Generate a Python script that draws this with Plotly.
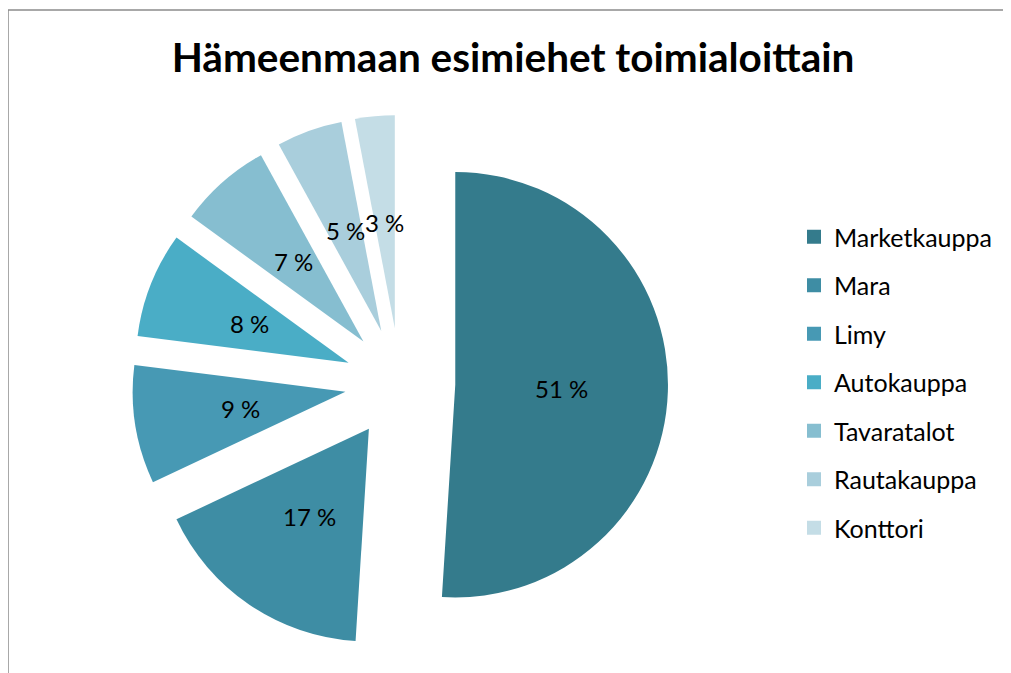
import math
import plotly.graph_objects as go

categories = ["Marketkauppa", "Mara", "Limy", "Autokauppa", "Tavaratalot", "Rautakauppa", "Konttori"]
values = [51, 17, 9, 8, 7, 5, 3]
colors = ["#347B8C", "#3E8DA4", "#4799B4", "#4AADC6", "#86BED0", "#A9CEDC", "#C4DDE6"]
labels_text = [f"{v} %" for v in values]
PULL = 0.26

W, H = 1011, 673
OFF = 8  # page body margin
FONT = "Lato, 'Open Sans', sans-serif"


def px_x(p):
    return (p - OFF) / W


def px_y(p):
    return 1 - (p - OFF) / H


dom_x = [px_x(132), px_x(668)]
dom_y = [px_y(651), px_y(115)]

fig = go.Figure()
fig.add_trace(go.Pie(
    labels=categories, values=values, sort=False, direction="clockwise", rotation=0,
    marker=dict(colors=colors, line=dict(width=0)),
    pull=[PULL] * len(values),
    textinfo="none",
    domain=dict(x=dom_x, y=dom_y),
    showlegend=False, hoverinfo="label+percent",
))

# data labels at half radius along each slice bisector (derived from the values)
cx = (dom_x[0] + dom_x[1]) / 2 * W
cy = (1 - (dom_y[0] + dom_y[1]) / 2) * H
r = min((dom_x[1] - dom_x[0]) * W, (dom_y[1] - dom_y[0]) * H) / 2 / (1 + PULL)
total = sum(values)
cum = 0
annotations = []
for v, t in zip(values, labels_text):
    mid = (cum + v / 2) / total * 2 * math.pi
    cum += v
    d = PULL * r + 0.5 * r
    ax = cx + d * math.sin(mid)
    ay = cy - d * math.cos(mid)
    annotations.append(dict(x=ax / W, y=1 - ay / H, xref="paper", yref="paper", text=t,
                            xanchor="center", yanchor="middle", showarrow=False,
                            font=dict(family=FONT, size=24, color="#000000")))

# legend proxies
for i, (c, col) in enumerate(zip(categories, colors)):
    fig.add_trace(go.Scatter(
        x=[None], y=[None], mode="markers", name=c,
        marker=dict(symbol="square", size=14, color=col),
        legendgroup=f"g{i}", showlegend=True,
    ))

fig.update_layout(
    width=W, height=H,
    margin=dict(l=0, r=0, t=0, b=0, autoexpand=False),
    paper_bgcolor="white", plot_bgcolor="white",
    title=dict(text="<b>Hämeenmaan esimiehet toimialoittain</b>", x=px_x(513), xanchor="center",
               y=px_y(58), yanchor="middle",
               font=dict(family=FONT, size=40.5, color="#000000")),
    xaxis=dict(visible=False), yaxis=dict(visible=False),
    legend=dict(x=px_x(794), xanchor="left", y=px_y(214), yanchor="top",
                font=dict(family=FONT, size=25, color="#000000"),
                tracegroupgap=13, bgcolor="rgba(0,0,0,0)", traceorder="grouped"),
    annotations=annotations,
    shapes=[dict(type="rect", xref="paper", yref="paper",
                 x0=px_x(8), x1=px_x(1004), y0=-0.1, y1=px_y(10),
                 line=dict(color="#8C8C8C", width=1.5), fillcolor="rgba(0,0,0,0)", layer="below")],
)

fig.write_html("out.html")
